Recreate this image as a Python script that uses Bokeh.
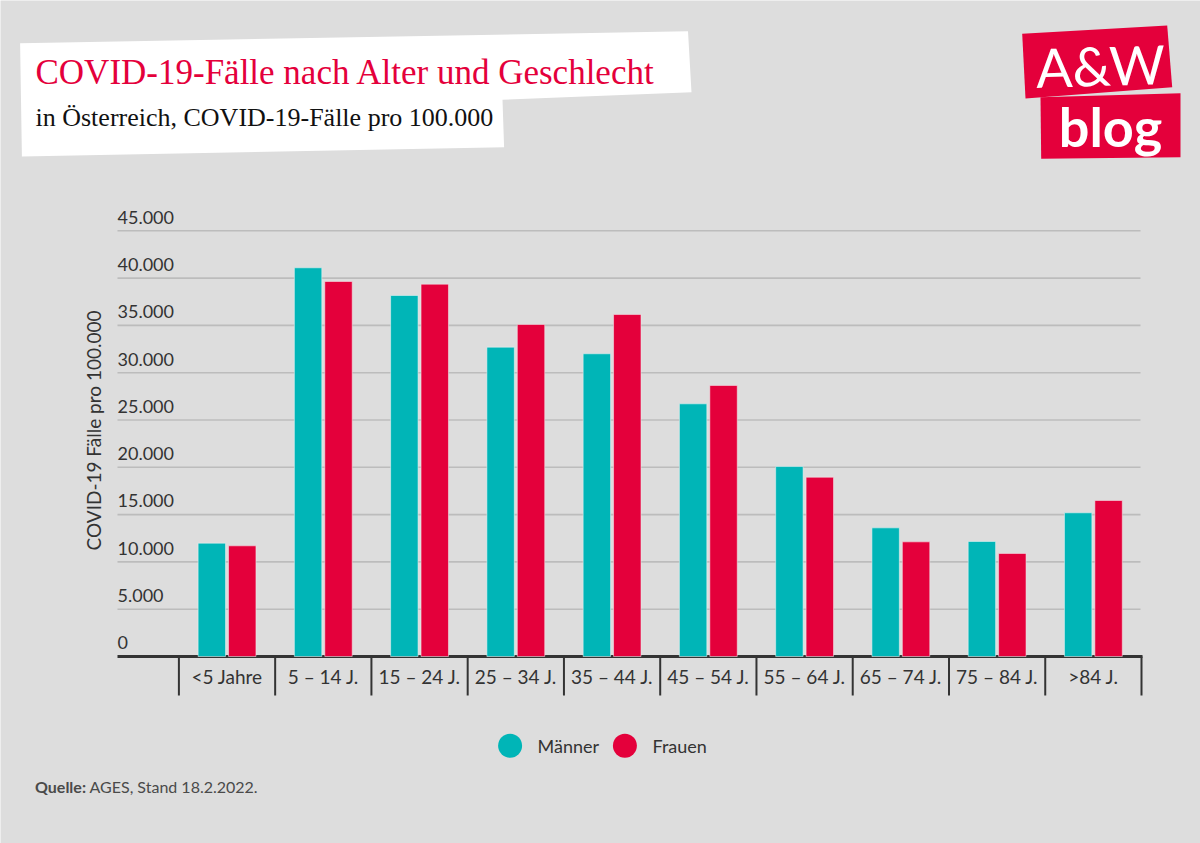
from bokeh.plotting import figure
from bokeh.models import Range1d
from bokeh.core.properties import value
from bokeh.embed import file_html
from bokeh.resources import INLINE
import math

# ---------------- data ----------------
categories = ["<5 Jahre", "5 – 14 J.", "15 – 24 J.", "25 – 34 J.", "35 – 44 J.",
              "45 – 54 J.", "55 – 64 J.", "65 – 74 J.", "75 – 84 J.", ">84 J."]
maenner = [11980, 41090, 38160, 32700, 32000, 26710, 20080, 13600, 12160, 15190]
frauen = [11700, 39640, 39360, 35100, 36150, 28650, 18950, 12120, 10890, 16490]
y_ticks = [0, 5000, 10000, 15000, 20000, 25000, 30000, 35000, 40000, 45000]
y_tick_labels = ["0", "5.000", "10.000", "15.000", "20.000", "25.000",
                 "30.000", "35.000", "40.000", "45.000"]
series_names = ["Männer", "Frauen"]

# ---------------- style ----------------
BG = "#dddddd"
TEAL = "#00b5b7"
RED = "#e4003b"
TXT = "#333333"
GRID = "#bcbcbc"
SANS = "Lato"

W, H = 1200, 843
CAT0_PX = 178.4
CAT_W = 96.26
BASE_PX = 656.0
PX_PER_UNIT = 9.46 / 1000.0


def X(px):
    return (px - CAT0_PX) / CAT_W


def Y(py):
    return (BASE_PX - py) / PX_PER_UNIT


def boff(size):
    # compensation so the alphabetic baseline lands where intended
    return -0.37 * size


p = figure(width=W, height=H,
           x_range=Range1d(X(0), X(W)), y_range=Range1d(Y(H), Y(0)),
           output_backend="svg", toolbar_location=None, min_border=0,
           x_axis_location=None, y_axis_location=None,
           outline_line_color=None,
           background_fill_color=BG, border_fill_color=BG)
p.grid.visible = False

# ---------------- title box ----------------
box_px = [(19.6, 42.7), (687.5, 30.7), (691, 91.7), (502, 99.3), (503.6, 146.7), (21.4, 156)]
p.patch([X(a) for a, b in box_px], [Y(b) for a, b in box_px], fill_color="white", line_color=None)
p.text(x=[X(35)], y=[Y(85)], text=["COVID-19-Fälle nach Alter und Geschlecht"],
       text_font=value("Liberation Serif"), text_font_size="35px", text_color=RED,
       text_baseline="alphabetic", text_align="left", y_offset=boff(35))
p.text(x=[X(35)], y=[Y(126.5)], text=["in Österreich, COVID-19-Fälle pro 100.000"],
       text_font=value("Liberation Serif"), text_font_size="26px", text_color="#111111",
       text_baseline="alphabetic", text_align="left", y_offset=boff(26))

# ---------------- logo ----------------
aw_px = [(1021.7, 33.3), (1166.7, 25), (1171.7, 86.7), (1025, 98)]
blog_px = [(1040, 96.7), (1180, 92.7), (1180, 156.7), (1040.7, 158.3)]
for poly in (aw_px, blog_px):
    p.patch([X(a) for a, b in poly], [Y(b) for a, b in poly], fill_color=RED, line_color=None)
p.text(x=[X(1100)], y=[Y(85)], text=["A&W"], text_font=value(SANS), text_font_size="54px",
       text_color="white", text_align="center", text_baseline="alphabetic", angle=0.03,
       y_offset=boff(54))
p.text(x=[X(1110)], y=[Y(146)], text=["blog"], text_font=value(SANS), text_font_size="54px",
       text_font_style="bold", text_color="white", text_align="center", text_baseline="alphabetic",
       y_offset=boff(54))

# ---------------- grid & axes ----------------
x_left = X(117)
x_right = X(1140)
grid_vals = [v for v in y_ticks if v > 0]
p.segment(x0=[x_left] * len(grid_vals), y0=grid_vals, x1=[x_right] * len(grid_vals), y1=grid_vals,
          line_color=GRID, line_width=1.6)
p.text(x=[x_left] * len(y_ticks), y=y_ticks, text=y_tick_labels, y_offset=-7 + boff(18),
       text_font=value(SANS), text_font_size="18px", text_color=TXT,
       text_baseline="alphabetic", text_align="left")

n = len(categories)
p.segment(x0=[x_left], y0=[0], x1=[X(1142)], y1=[0], line_color=TXT, line_width=3)
seps = list(range(n + 1))
p.segment(x0=seps, y0=[0] * len(seps), x1=seps, y1=[Y(695)] * len(seps),
          line_color=TXT, line_width=2)
p.text(x=[i + 0.5 for i in range(n)], y=[Y(683.5)] * n, text=categories,
       text_font=value(SANS), text_font_size="19px", text_color=TXT,
       text_baseline="alphabetic", text_align="center", y_offset=boff(19))

p.text(x=[X(100.5 - 0.37 * 19)], y=[Y(430)], text=["COVID-19 Fälle pro 100.000"], angle=math.pi / 2,
       text_font=value(SANS), text_font_size="19px", text_color=TXT,
       text_baseline="alphabetic", text_align="center")

# ---------------- bars ----------------
off = 0.158
bw = 0.285
p.vbar(x=[i + 0.5 - off for i in range(n)], top=maenner, bottom=0, width=bw,
       fill_color=TEAL, line_color="#e8f4f4", line_width=0.8, line_alpha=0.7)
p.vbar(x=[i + 0.5 + off for i in range(n)], top=frauen, bottom=0, width=bw,
       fill_color=RED, line_color="#f4e8ec", line_width=0.8, line_alpha=0.7)

# ---------------- legend ----------------
p.scatter(x=[X(509.6), X(624.4)], y=[Y(745.3)] * 2, marker="circle", size=24,
          fill_color=[TEAL, RED], line_color=None)
p.text(x=[X(537), X(652)], y=[Y(752)] * 2, text=series_names,
       text_font=value(SANS), text_font_size="18px", text_color=TXT,
       text_baseline="alphabetic", text_align="left", y_offset=boff(18))

# ---------------- source ----------------
p.text(x=[X(34.5)], y=[Y(792)], text=["Quelle:"], text_font=value(SANS), text_font_size="16px",
       text_font_style="bold", text_color="#4a4a4a", text_baseline="alphabetic", text_align="left",
       y_offset=boff(16))
p.text(x=[X(89)], y=[Y(792)], text=["AGES, Stand 18.2.2022."], text_font=value(SANS),
       text_font_size="16px", text_color="#4a4a4a", text_baseline="alphabetic", text_align="left",
       y_offset=boff(16))

open("out.html", "w").write(file_html(p, INLINE))
